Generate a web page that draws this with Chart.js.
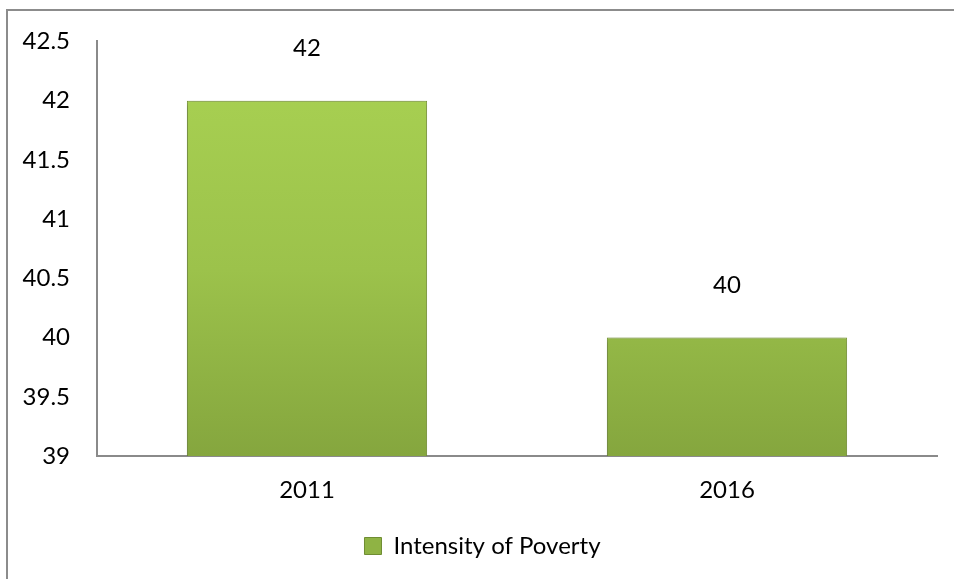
<!DOCTYPE html>
<html>
<head>
<meta charset="utf-8">
<script src="https://cdn.jsdelivr.net/npm/chart.js@4/dist/chart.umd.min.js"></script>
<style>
  html, body { margin: 0; padding: 0; background: #fff; overflow: hidden; }
  #frame {
    position: absolute; left: 6px; top: 9px;
    width: 1000px; height: 620px;
    border: 2px solid #8c8c8c;
  }
  #wrap { position: absolute; left: 0; top: 0; width: 954px; height: 579px; }
</style>
</head>
<body>
<div id="frame"></div>
<div id="wrap"><canvas id="povertyChart" width="954" height="579"></canvas></div>
<script>
// valores
const years = ['2011', '2016'];
const intensity = [42, 40];
const seriesName = 'Intensity of Poverty';
const yMin = 39, yMax = 42.5, yStep = 0.5;

const FONT = 'Lato, "Open Sans", sans-serif';
const FSIZE = 24;

// gradiente vertical das barras
function barGradient(ctx) {
  const area = ctx.chart.chartArea;
  if (!area) return '#98bf4a';
  const g = ctx.chart.ctx.createLinearGradient(0, area.top, 0, area.bottom);
  g.addColorStop(0, '#aad353');
  g.addColorStop(0.55, '#9cc24b');
  g.addColorStop(1, '#85a63e');
  return g;
}

// sombra leve nas barras
const barShadow = {
  id: 'barShadow',
  beforeDatasetDraw(chart) {
    const c = chart.ctx;
    c.save();
    c.shadowColor = 'rgba(0,0,0,0.35)';
    c.shadowBlur = 5;
    c.shadowOffsetX = -1;
    c.shadowOffsetY = 1;
  },
  afterDatasetDraw(chart) {
    chart.ctx.restore();
  }
};

// legenda um pouco à direita e acima, como no original
const legendShift = {
  id: 'legendShift',
  afterLayout(chart) {
    if (chart.legend) {
      chart.legend.left += 14;
      chart.legend.right += 14;
      chart.legend.top -= 3;
      chart.legend.bottom -= 3;
    }
  }
};

// rótulos em cima das barras
const valueLabels = {
  id: 'valueLabels',
  afterDatasetsDraw(chart) {
    const c = chart.ctx;
    const meta = chart.getDatasetMeta(0);
    c.save();
    c.font = FSIZE + 'px ' + FONT;
    c.fillStyle = '#000';
    c.textAlign = 'center';
    c.textBaseline = 'middle';
    meta.data.forEach((bar, i) => {
      c.fillText(String(intensity[i]), bar.x, bar.y - 52);
    });
    c.restore();
  }
};

const ctx = document.getElementById('povertyChart').getContext('2d');
new Chart(ctx, {
  type: 'bar',
  data: {
    labels: years,
    datasets: [{
      label: seriesName,
      data: intensity,
      backgroundColor: barGradient,
      borderColor: '#7c9a38',
      borderWidth: 1,
      barPercentage: 0.572,
      categoryPercentage: 1
    }]
  },
  options: {
    responsive: false,
    animation: false,
    devicePixelRatio: 1,
    layout: { padding: { left: 0, top: 36, right: 17, bottom: 8 } },
    scales: {
      x: {
        grid: { display: false, drawTicks: false },
        border: { display: true, color: '#8a8a8a', width: 2 },
        ticks: { color: '#000', font: { family: FONT, size: FSIZE }, padding: 20 },
        afterFit(scale) { scale.height = 71; }
      },
      y: {
        min: yMin,
        max: yMax,
        grid: { display: false, drawTicks: false },
        border: { display: true, color: '#8a8a8a', width: 2 },
        ticks: {
          stepSize: yStep,
          color: '#000',
          font: { family: FONT, size: FSIZE },
          padding: 27,
          callback: (v) => String(Number(v))
        },
        afterFit(scale) { scale.width = 97; }
      }
    },
    plugins: {
      legend: {
        position: 'bottom',
        labels: {
          color: '#000',
          font: { family: FONT, size: FSIZE },
          boxWidth: 17,
          boxHeight: 17,
          padding: 10,
          generateLabels() {
            return [{
              text: seriesName,
              fillStyle: '#8fb344',
              strokeStyle: '#6f8d33',
              lineWidth: 1,
              datasetIndex: 0
            }];
          }
        }
      },
      tooltip: { enabled: false }
    }
  },
  plugins: [barShadow, legendShift, valueLabels]
});
</script>
</body>
</html>
